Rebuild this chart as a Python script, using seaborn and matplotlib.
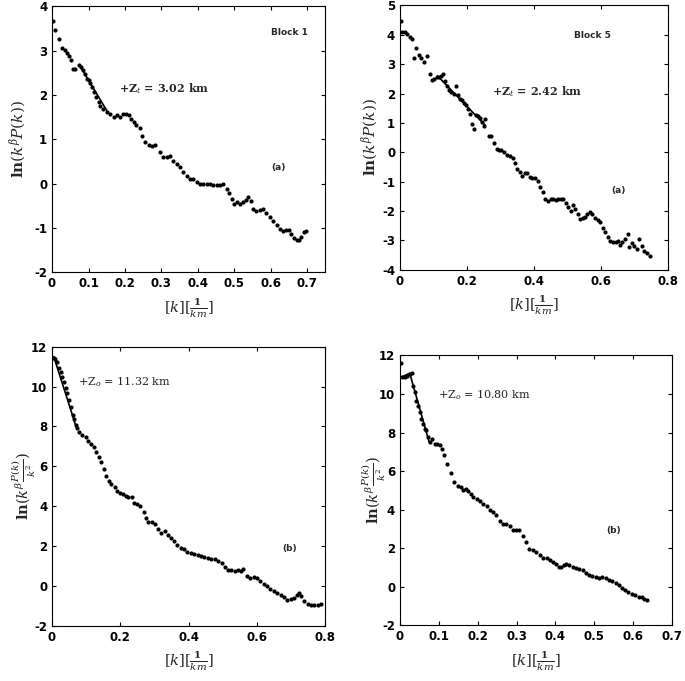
import numpy as np
import pandas as pd
import matplotlib
matplotlib.use("Agg")
import matplotlib.pyplot as plt
import seaborn as sns

# Block 1 (a)
k1 = [0.002, 0.009, 0.02, 0.027, 0.035, 0.041, 0.047, 0.053, 0.057, 0.064, 0.075, 0.079, 0.085, 0.091,
      0.096, 0.100, 0.105, 0.109, 0.116, 0.121, 0.128, 0.132, 0.141, 0.150, 0.160, 0.169, 0.178, 0.187,
      0.196, 0.203, 0.21, 0.217, 0.224, 0.231, 0.24, 0.246, 0.255, 0.265, 0.274, 0.283, 0.295, 0.304,
      0.315, 0.324, 0.333, 0.342, 0.351, 0.36, 0.37, 0.379, 0.388, 0.397, 0.406, 0.415, 0.424, 0.433,
      0.443, 0.452, 0.461, 0.47, 0.479, 0.486, 0.493, 0.5, 0.508, 0.516, 0.525, 0.532, 0.538, 0.545,
      0.552, 0.561, 0.57, 0.579, 0.588, 0.598, 0.607, 0.616, 0.625, 0.634, 0.643, 0.651, 0.657, 0.663,
      0.671, 0.678, 0.684, 0.691, 0.698]
v1 = [3.67, 3.46, 3.27, 3.06, 3.02, 2.94, 2.87, 2.78, 2.59, 2.59, 2.67, 2.63, 2.55, 2.48,
      2.36, 2.33, 2.27, 2.18, 2.06, 1.95, 1.84, 1.76, 1.69, 1.61, 1.57, 1.51, 1.54, 1.51,
      1.57, 1.57, 1.54, 1.46, 1.39, 1.33, 1.26, 1.08, 0.93, 0.86, 0.84, 0.86, 0.71, 0.61,
      0.61, 0.63, 0.52, 0.44, 0.37, 0.26, 0.18, 0.11, 0.11, 0.03, -0.01, 0.0, -0.01, -0.01,
      -0.02, -0.03, -0.02, 0.0, -0.12, -0.22, -0.35, -0.46, -0.42, -0.46, -0.42, -0.37, -0.31, -0.38,
      -0.57, -0.61, -0.59, -0.57, -0.67, -0.76, -0.84, -0.93, -1.02, -1.06, -1.05, -1.05, -1.14, -1.23,
      -1.27, -1.27, -1.21, -1.10, -1.06]
fit_k1 = [0.078, 0.15]
fit_v1 = [2.63, 1.65]

# Block 5 (a)
k2 = [0.003, 0.007, 0.015, 0.022, 0.029, 0.036, 0.041, 0.049, 0.056, 0.064, 0.072, 0.08, 0.089, 0.095,
      0.102, 0.109, 0.115, 0.123, 0.128, 0.134, 0.14, 0.146, 0.153, 0.16, 0.167, 0.172, 0.179, 0.185,
      0.191, 0.197, 0.203, 0.209, 0.215, 0.22, 0.226, 0.232, 0.238, 0.245, 0.25, 0.255, 0.266, 0.273,
      0.281, 0.289, 0.296, 0.303, 0.312, 0.32, 0.328, 0.336, 0.344, 0.35, 0.358, 0.365, 0.373, 0.38,
      0.388, 0.395, 0.404, 0.411, 0.419, 0.427, 0.434, 0.442, 0.45, 0.458, 0.465, 0.473, 0.48, 0.487,
      0.496, 0.503, 0.51, 0.516, 0.523, 0.531, 0.539, 0.546, 0.553, 0.559, 0.567, 0.574, 0.582, 0.59,
      0.598, 0.606, 0.613, 0.62, 0.628, 0.636, 0.644, 0.651, 0.657, 0.664, 0.672, 0.68, 0.685, 0.692,
      0.70, 0.708, 0.715, 0.722, 0.73, 0.739, 0.746]
v2 = [4.47, 4.11, 4.09, 4.02, 3.94, 3.86, 3.22, 3.56, 3.31, 3.22, 3.08, 3.29, 2.65, 2.45,
      2.51, 2.55, 2.57, 2.60, 2.65, 2.42, 2.26, 2.11, 2.05, 2.0, 2.26, 1.94, 1.83, 1.77,
      1.69, 1.60, 1.48, 1.31, 0.97, 0.80, 1.26, 1.23, 1.16, 1.03, 0.91, 1.12, 0.55, 0.55,
      0.32, 0.11, 0.09, 0.06, 0.0, -0.09, -0.14, -0.21, -0.37, -0.57, -0.68, -0.80, -0.71, -0.71,
      -0.86, -0.89, -0.89, -0.97, -1.20, -1.37, -1.58, -1.66, -1.60, -1.60, -1.62, -1.58, -1.58, -1.60,
      -1.74, -1.88, -2.0, -1.80, -1.94, -2.11, -2.26, -2.23, -2.19, -2.11, -2.05, -2.11, -2.23, -2.31,
      -2.37, -2.57, -2.72, -2.88, -3.03, -3.06, -3.06, -3.03, -3.17, -3.06, -2.95, -2.80, -3.22, -3.08,
      -3.20, -3.29, -2.97, -3.20, -3.37, -3.42, -3.52]
fit_k2 = [0.112, 0.255]
fit_v2 = [2.60, 0.91]

# Block 1 (b)
k3 = [0.005, 0.010, 0.015, 0.020, 0.025, 0.030, 0.035, 0.040, 0.045, 0.050, 0.055, 0.060, 0.064, 0.069,
      0.072, 0.079, 0.089, 0.099, 0.106, 0.114, 0.122, 0.129, 0.136, 0.144, 0.152, 0.159, 0.166, 0.173,
      0.183, 0.191, 0.199, 0.207, 0.215, 0.223, 0.233, 0.241, 0.249, 0.258, 0.268, 0.275, 0.282, 0.292,
      0.302, 0.31, 0.32, 0.33, 0.339, 0.347, 0.357, 0.367, 0.377, 0.387, 0.396, 0.406, 0.416, 0.426,
      0.436, 0.446, 0.456, 0.466, 0.476, 0.486, 0.496, 0.505, 0.515, 0.525, 0.535, 0.545, 0.552, 0.56,
      0.57, 0.58, 0.59, 0.6, 0.609, 0.619, 0.629, 0.639, 0.649, 0.659, 0.669, 0.679, 0.689, 0.699,
      0.709, 0.716, 0.723, 0.73, 0.738, 0.748, 0.758, 0.768, 0.778, 0.788]
v3 = [11.44, 11.38, 11.24, 10.94, 10.74, 10.49, 10.24, 9.93, 9.65, 9.31, 8.97, 8.59, 8.35, 8.05,
      7.92, 7.71, 7.58, 7.46, 7.29, 7.13, 6.96, 6.71, 6.45, 6.20, 5.87, 5.53, 5.28, 5.11,
      4.94, 4.77, 4.66, 4.61, 4.52, 4.47, 4.44, 4.18, 4.10, 4.02, 3.71, 3.43, 3.21, 3.21,
      3.09, 2.84, 2.67, 2.76, 2.54, 2.42, 2.25, 2.03, 1.92, 1.83, 1.70, 1.63, 1.58, 1.53,
      1.50, 1.45, 1.41, 1.36, 1.33, 1.24, 1.16, 0.96, 0.79, 0.79, 0.74, 0.82, 0.74, 0.86,
      0.52, 0.40, 0.45, 0.40, 0.24, 0.12, -0.02, -0.15, -0.27, -0.35, -0.44, -0.55, -0.69, -0.66,
      -0.61, -0.44, -0.35, -0.49, -0.77, -0.89, -0.94, -0.94, -0.94, -0.89]
fit_k3 = [0.005, 0.072]
fit_v3 = [11.5, 7.9]

# Block 5 (b)
k4 = [0.003, 0.006, 0.013, 0.019, 0.025, 0.030, 0.034, 0.038, 0.042, 0.047, 0.051, 0.055, 0.059, 0.064,
      0.068, 0.072, 0.076, 0.082, 0.089, 0.096, 0.102, 0.108, 0.114, 0.121, 0.130, 0.138, 0.148, 0.157,
      0.163, 0.169, 0.175, 0.182, 0.189, 0.197, 0.206, 0.214, 0.223, 0.231, 0.24, 0.248, 0.257, 0.265,
      0.273, 0.282, 0.29, 0.299, 0.307, 0.316, 0.324, 0.333, 0.341, 0.35, 0.36, 0.368, 0.377, 0.385,
      0.394, 0.402, 0.409, 0.415, 0.421, 0.428, 0.436, 0.445, 0.453, 0.461, 0.47, 0.478, 0.487, 0.495,
      0.504, 0.512, 0.521, 0.529, 0.538, 0.546, 0.555, 0.563, 0.572, 0.58, 0.588, 0.597, 0.605, 0.614,
      0.622, 0.629, 0.635]
v4 = [11.6, 10.9, 10.9, 10.95, 11.04, 11.08, 10.44, 10.09, 9.66, 9.40, 9.06, 8.71, 8.45, 8.19,
      8.11, 7.76, 7.50, 7.67, 7.38, 7.41, 7.33, 7.16, 6.81, 6.38, 5.89, 5.43, 5.25, 5.17,
      5.03, 5.08, 4.99, 4.82, 4.65, 4.56, 4.44, 4.30, 4.17, 3.99, 3.87, 3.70, 3.40, 3.27,
      3.23, 3.13, 2.92, 2.92, 2.92, 2.61, 2.32, 1.97, 1.88, 1.80, 1.62, 1.50, 1.50, 1.40,
      1.28, 1.19, 1.02, 1.02, 1.11, 1.19, 1.11, 1.02, 0.99, 0.93, 0.85, 0.71, 0.59, 0.54,
      0.50, 0.47, 0.50, 0.47, 0.36, 0.29, 0.19, 0.07, -0.05, -0.16, -0.28, -0.40, -0.45, -0.54,
      -0.54, -0.62, -0.67]
fit_k4 = [0.006, 0.025, 0.075]
fit_v4 = [10.9, 11.08, 7.5]

sns.set_theme(style="ticks")
plt.rcParams["font.family"] = ["DejaVu Sans"]
plt.rcParams["mathtext.fontset"] = "dejavuserif"
plt.rcParams["xtick.direction"] = "in"
plt.rcParams["ytick.direction"] = "in"
plt.rcParams["xtick.top"] = True
plt.rcParams["ytick.right"] = True

fig = plt.figure(figsize=(6.85, 6.81), dpi=100)
ax1 = fig.add_axes([0.076, 0.600, 0.399, 0.391])
ax2 = fig.add_axes([0.584, 0.604, 0.391, 0.388])
ax3 = fig.add_axes([0.076, 0.081, 0.399, 0.410])
ax4 = fig.add_axes([0.584, 0.082, 0.397, 0.396])

panels = [
    (ax1, k1, v1, fit_k1, fit_v1, (0, 0.75), (-2, 4), np.arange(0, 0.71, 0.1), np.arange(-2, 5, 1)),
    (ax2, k2, v2, fit_k2, fit_v2, (0, 0.8), (-4, 5), np.arange(0, 0.81, 0.2), np.arange(-4, 6, 1)),
    (ax3, k3, v3, fit_k3, fit_v3, (0, 0.8), (-2, 12), np.arange(0, 0.81, 0.2), np.arange(-2, 13, 2)),
    (ax4, k4, v4, fit_k4, fit_v4, (0, 0.7), (-2, 12), np.arange(0, 0.71, 0.1), np.arange(-2, 13, 2)),
]

for ax, k, v, fk, fv, xl, yl, xt, yt in panels:
    df = pd.DataFrame({"k": k, "v": v})
    sns.scatterplot(data=df, x="k", y="v", ax=ax, color="black", s=9, linewidth=0)
    sns.lineplot(x=fk, y=fv, ax=ax, color="black", linewidth=1.2, sort=False)
    ax.set_xlim(*xl)
    ax.set_ylim(*yl)
    ax.set_xticks(xt)
    ax.set_yticks(yt)
    ax.set_xticklabels([f"{t:g}" for t in xt])
    ax.set_yticklabels([f"{t:g}" for t in yt])
    ax.tick_params(labelsize=8.5, length=3, width=0.8, colors="black")
    for lab in ax.get_xticklabels() + ax.get_yticklabels():
        lab.set_fontweight("bold")
    for s in ax.spines.values():
        s.set_linewidth(0.8)
        s.set_color("black")
    ax.set_xlabel(r"$[k][\frac{\mathbf{1}}{km}]$", fontsize=10.5, labelpad=4)

ylab_a = r"$\mathbf{ln}(k^{\beta}P(k))$"
ylab_b = r"$\mathbf{ln}(k^{\beta}\frac{P(k)}{k^{2}})$"
ax1.set_ylabel(ylab_a, fontsize=11, va="center")
ax2.set_ylabel(ylab_a, fontsize=11, va="center")
ax3.set_ylabel(ylab_b, fontsize=10.5, va="center")
ax4.set_ylabel(ylab_b, fontsize=10.5, va="center")
ax1.yaxis.set_label_coords(-0.125, 0.5)
ax2.yaxis.set_label_coords(-0.11, 0.5)
ax3.yaxis.set_label_coords(-0.105, 0.5)
ax4.yaxis.set_label_coords(-0.097, 0.5)

ax1.text(0.6, 3.35, "Block 1", fontsize=6.5, fontweight="bold")
ax2.text(0.52, 3.9, "Block 5", fontsize=6.5, fontweight="bold")
ax1.text(0.183, 2.05, r"+Z$_t$ = 3.02 km", fontsize=8, fontweight="bold", family="DejaVu Serif")
ax2.text(0.276, 1.95, r"+Z$_t$ = 2.42 km", fontsize=8, fontweight="bold", family="DejaVu Serif")
ax3.text(0.076, 10.05, r"+Z$_o$ = 11.32 km", fontsize=8, family="DejaVu Serif")
ax4.text(0.097, 9.8, r"+Z$_o$ = 10.80 km", fontsize=8, family="DejaVu Serif")
ax1.text(0.602, 0.3, "(a)", fontsize=6.5, fontweight="bold")
ax2.text(0.63, -1.4, "(a)", fontsize=6.5, fontweight="bold")
ax3.text(0.674, 1.75, "(b)", fontsize=6.5, fontweight="bold")
ax4.text(0.53, 2.8, "(b)", fontsize=6.5, fontweight="bold")

fig.savefig("out.png", dpi=100)
